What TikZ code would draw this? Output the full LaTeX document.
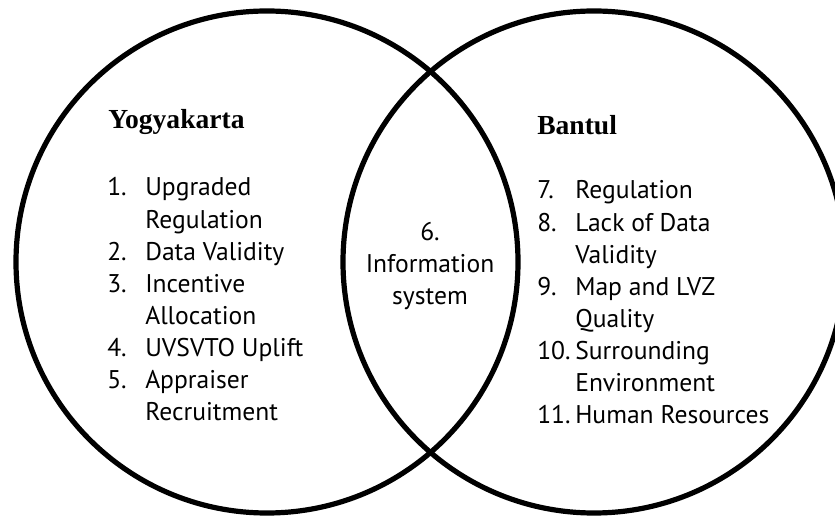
\documentclass[tikz,border=0pt]{standalone}
\usepackage{fontspec}
\usepackage{array}
\newfontfamily\ptsans{PT Sans}
\newfontfamily\libserif{Liberation Serif}
\usetikzlibrary{positioning}
\newcommand{\itemfont}{\ptsans\fontsize{18.2pt}{22.8pt}\selectfont}
\newcommand{\headfont}{\libserif\bfseries\fontsize{19.6pt}{23pt}\selectfont}
\tikzset{%
  set/.style={circle,minimum size=12.55cm,line width=3.7pt,draw},
  heading/.style={font=\headfont,anchor=base west,inner sep=0pt},
  items/.style={font=\itemfont,anchor=base west,inner sep=0pt},
  shared/.style={font=\itemfont,anchor=base,inner sep=0pt}
}

\begin{document}
\begin{tikzpicture}[node distance=8.175cm]
    \useasboundingbox (0,0) rectangle (20.875,12.875);
    \node [set] (yogya) at (6.675,6.325) {};
    \node [set] (bantul) [right of=yogya] {};

    \node [heading] (yogyaname) at (2.7,9.65) {Yogyakarta};
    \node [heading] (bantulname) at (13.425,9.5) {Bantul};

    \node [items] (yogyalist) at (2.675,7.975) {%
      \begin{tabular}[t]{@{}p{0.95cm}@{}l@{}}
        1. & Upgraded\\
           & Regulation\\
        2. & Data Validity\\
        3. & Incentive\\
           & Allocation\\
        4. & UVSVTO Uplift\\
        5. & Appraiser\\
           & Recruitment
      \end{tabular}};

    \node [items] (bantullist) at (13.425,7.9) {%
      \begin{tabular}[t]{@{}p{0.95cm}@{}l@{}}
        7.  & Regulation\\
        8.  & Lack of Data\\
            & Validity\\
        9.  & Map and LVZ\\
            & Quality\\
        10. & Surrounding\\
            & Environment\\
        11. & Human Resources
      \end{tabular}};

    % overlap of the two sets
    \node [shared] (both) at (10.75,6.857) {%
      \begin{tabular}[t]{@{}c@{}}
        6.\\
        Information\\
        system
      \end{tabular}};
\end{tikzpicture}
\end{document}
